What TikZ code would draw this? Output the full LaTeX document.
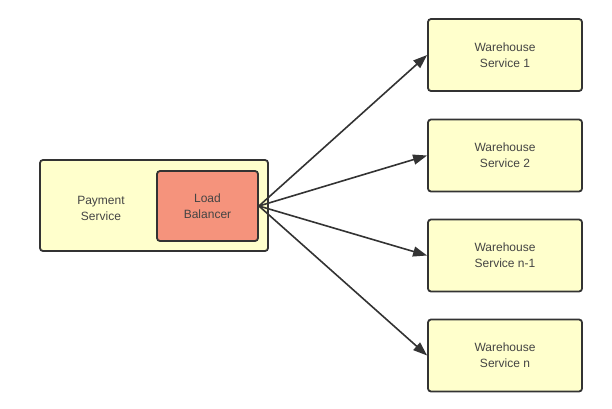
\documentclass[tikz,border=0pt]{standalone}
\usepackage{fontspec}
\setmainfont{Liberation Sans}
\usetikzlibrary{arrows.meta}
\definecolor{boxfill}{HTML}{FFFFCC}
\definecolor{lbfill}{HTML}{F5937C}
\definecolor{edge}{HTML}{333333}
\definecolor{txt}{HTML}{444444}
\tikzset{
  x=1pt,y=-1pt,
  svcbox/.style={draw=edge,line width=1.8pt,rounded corners=3pt,fill=boxfill,
    text=txt,font=\fontsize{12}{16}\selectfont,align=center,inner sep=0pt},
  lbbox/.style={svcbox,fill=lbfill},
  conn/.style={draw=edge,line width=1.6pt,-{Triangle[length=14pt,width=10pt]}}
}
\begin{document}
\begin{tikzpicture}
\useasboundingbox (0,0) rectangle (612,408);
\node[svcbox,minimum width=228pt,minimum height=91pt] (pay) at (154,205.5) {};
\node[text=txt,font=\fontsize{12}{16}\selectfont,align=center] (paytxt) at (101,208) {Payment\\Service};
\node[lbbox,minimum width=101pt,minimum height=70pt] (lb) at (207.5,206) {Load\\Balancer};
\node[svcbox,minimum width=154pt,minimum height=72pt] (w1) at (505,55) {Warehouse\\Service 1};
\node[svcbox,minimum width=154pt,minimum height=72pt] (w2) at (505,155.5) {Warehouse\\Service 2};
\node[svcbox,minimum width=154pt,minimum height=72pt] (w3) at (505,255.5) {Warehouse\\Service n-1};
\node[svcbox,minimum width=154pt,minimum height=72pt] (w4) at (505,355.5) {Warehouse\\Service n};
\foreach \w in {w1,w2,w3,w4}
  \draw[conn] (lb.east) -- (\w.west);
\end{tikzpicture}
\end{document}
